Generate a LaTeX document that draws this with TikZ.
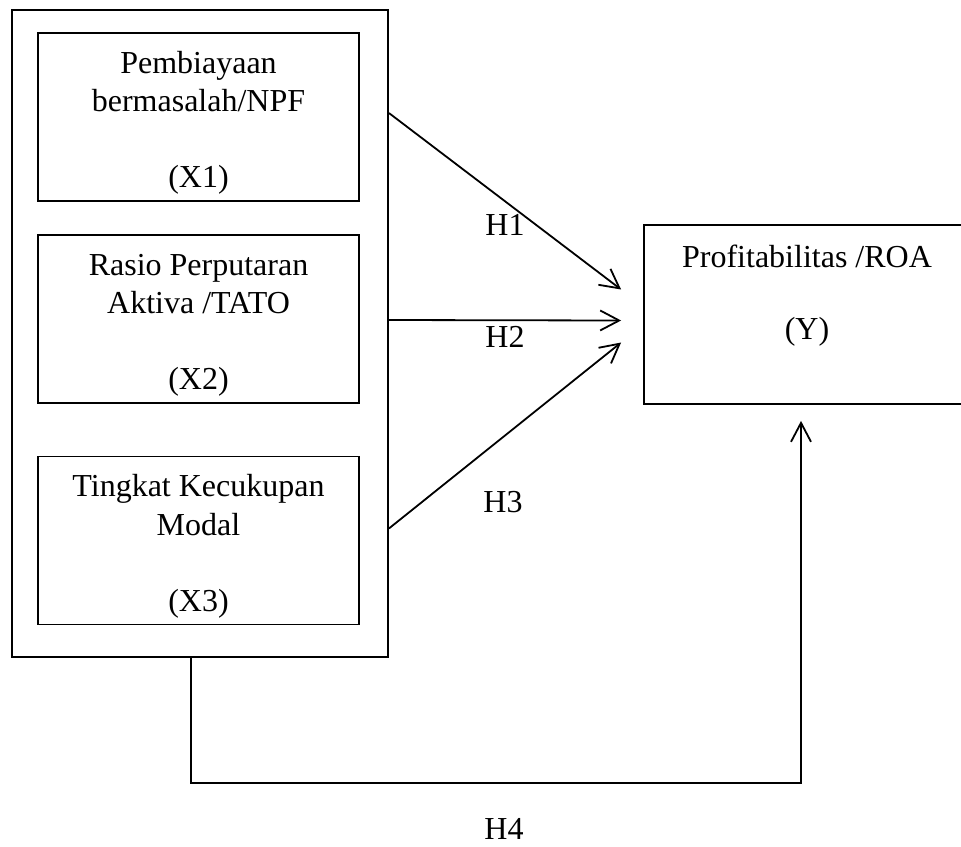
\documentclass[tikz,border=0pt]{standalone}
\usepackage{fontspec}
\setmainfont{Liberation Serif}
\usepackage{tikz}
\usetikzlibrary{calc}
\usetikzlibrary{arrows.meta}

\tikzset{
  varbox/.style={draw, line width=0.9pt, minimum width=160.5pt, minimum height=84pt,
    align=center, inner sep=0pt},
  hyp/.style={line width=0.9pt, -{Straight Barb[length=9.5pt,width=10pt,line width=0.9pt]}},
  hlabel/.style={inner sep=0pt}
}

\begin{document}
\begin{tikzpicture}[x=0.5pt, y=-0.5pt, font=\fontsize{16}{19.1}\selectfont]
  \useasboundingbox (0,0) rectangle (961,846);

  % independent variables
  \node[draw, line width=0.9pt, minimum width=188pt, minimum height=323.5pt, inner sep=0pt]
    (indep) at (200,333.5) {};
  \node[varbox] (x1) at (198.5,117) {\rule{0pt}{17pt}Pembiayaan\\bermasalah/NPF\\[19.1pt](X1)};
  \node[varbox] (x2) at (198.5,319) {\rule{0pt}{17pt}Rasio Perputaran\\Aktiva /TATO\\[19.1pt](X2)};
  \node[varbox] (x3) at (198.5,540.5) {\rule{0pt}{17pt}Tingkat Kecukupan\\Modal\\[19.1pt](X3)};

  % dependent variable
  \node[draw, line width=0.9pt, minimum width=163pt, minimum height=89.5pt, align=center, inner sep=0pt]
    (yvar) at (807,314.5) {Profitabilitas /ROA\\[17pt](Y)\\[3.5pt]\mbox{}};

  \draw[hyp] ([yshift=2pt]x1.east -| indep.east) -- ([xshift=-11pt,yshift=12.5pt]yvar.west);
  \draw[hyp] ([yshift=-0.5pt]x2.east -| indep.east) -- ([xshift=-11pt,yshift=-3pt]yvar.west);
  \draw[hyp] ([yshift=6pt]x3.east -| indep.east) -- ([xshift=-11pt,yshift=-14pt]yvar.west);
  \draw[hyp] ([xshift=-4.5pt]indep.south) -- ++(0,125) -| ([xshift=-3pt,yshift=-8pt]yvar.south);

  \node[hlabel] (h1) at (505,225) {H1};
  \node[hlabel] (h2) at (505,337) {H2};
  \node[hlabel] (h3) at (503,502) {H3};
  \node[hlabel] (h4) at (504,829) {H4};
\end{tikzpicture}
\end{document}
